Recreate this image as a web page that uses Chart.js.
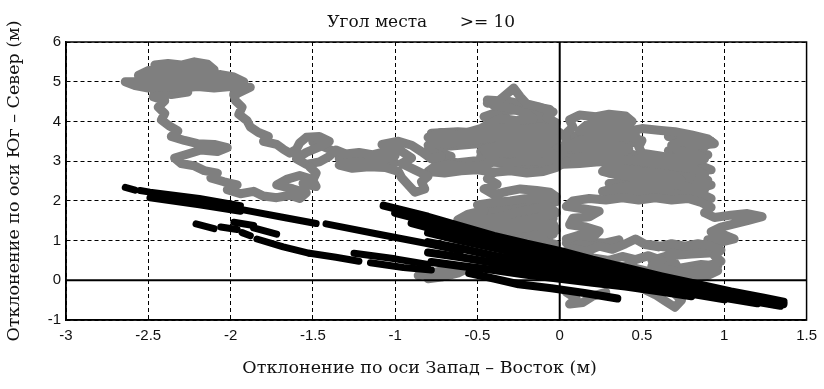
<!DOCTYPE html>
<html><head><meta charset="utf-8">
<script src="https://cdn.jsdelivr.net/npm/chart.js@4.4.0/dist/chart.umd.min.js"></script>
<style>html,body{margin:0;padding:0;background:#fff;}#wrap{width:824px;height:389px;}</style>
</head><body><div id="wrap"><canvas id="c" width="824" height="389"></canvas></div>
<script>
// ---- tick values / labels ----
const xTickValues = [-3, -2.5, -2, -1.5, -1, -0.5, 0, 0.5, 1, 1.5];
const xTickLabels = ['-3', '-2.5', '-2', '-1.5', '-1', '-0.5', '0', '0.5', '1', '1.5'];
const yTickValues = [-1, 0, 1, 2, 3, 4, 5, 6];
const yTickLabels = ['-1', '0', '1', '2', '3', '4', '5', '6'];

// ---- zero reference lines ----
const zeroLineX = [[0, -1], [0, 6]];
const zeroLineY = [[-3, 0], [1.5, 0]];

// ---- grey track (series 1) ----
const grayTrack1 = [[-2.46,5.42],[-2.38,5.46],[-2.30,5.42],[-2.22,5.50],[-2.14,5.44],[-2.10,5.30],[-2.20,5.32],[-2.30,5.28],[-2.40,5.32],[-2.50,5.28],[-2.56,5.16],[-2.46,5.18],[-2.36,5.14],[-2.26,5.18],[-2.16,5.14],[-2.06,5.18],[-1.98,5.12],[-1.92,5.00],[-2.02,5.04],[-2.12,5.00],[-2.22,5.04],[-2.32,5.00],[-2.42,5.04],[-2.52,5.00],[-2.64,5.00],[-2.58,4.90],[-2.50,4.84],[-2.40,4.88],[-2.30,4.84],[-2.20,4.88],[-2.10,4.84],[-2.00,4.88],[-1.88,4.86],[-1.94,4.74],[-1.98,4.66]];
const grayTrack2 = [[-2.26,4.74],[-2.36,4.68],[-2.46,4.74],[-2.47,4.62],[-2.40,4.52],[-2.44,4.36],[-2.40,4.20],[-2.42,4.04],[-2.37,3.88],[-2.32,3.76],[-2.36,3.62],[-2.28,3.52],[-2.20,3.44],[-2.10,3.42],[-2.02,3.34],[-2.08,3.24],[-2.18,3.28],[-2.26,3.18],[-2.34,3.08],[-2.30,2.94],[-2.22,2.88],[-2.16,2.76],[-2.08,2.70],[-2.12,2.58],[-2.04,2.48],[-1.96,2.40],[-2.02,2.28],[-1.94,2.18],[-1.86,2.24],[-1.80,2.12],[-1.72,2.08],[-1.64,2.14],[-1.58,2.06],[-1.54,2.20],[-1.62,2.30],[-1.72,2.40],[-1.66,2.54],[-1.58,2.64],[-1.52,2.56],[-1.56,2.44],[-1.48,2.36],[-1.50,2.52],[-1.48,2.70],[-1.52,2.86]];
const grayTrack3 = [[-1.98,4.70],[-1.97,4.52],[-1.93,4.36],[-1.95,4.18],[-1.90,4.02],[-1.88,3.86],[-1.83,3.72],[-1.77,3.62],[-1.80,3.50],[-1.72,3.42],[-1.68,3.30],[-1.64,3.20],[-1.60,3.30],[-1.58,3.46],[-1.54,3.60],[-1.46,3.62],[-1.40,3.50],[-1.46,3.36],[-1.54,3.22],[-1.60,3.06],[-1.54,2.92],[-1.46,2.98],[-1.40,3.12],[-1.36,3.28],[-1.30,3.18],[-1.22,3.22],[-1.14,3.16],[-1.06,3.24],[-1.00,3.14],[-1.08,3.02],[-1.16,2.96],[-1.26,2.98],[-1.34,2.90],[-1.26,2.82],[-1.16,2.86],[-1.06,2.84],[-0.98,2.74],[-0.96,2.58],[-0.92,2.40],[-0.88,2.22],[-0.82,2.30],[-0.84,2.48],[-0.80,2.62],[-0.88,2.78],[-0.96,2.94],[-0.90,3.08],[-0.98,3.30],[-1.08,3.42],[-0.98,3.50],[-0.90,3.40],[-0.84,3.24],[-0.78,3.06],[-0.72,3.12]];
const grayTrack4 = [[-0.72,3.12],[-0.80,3.28],[-0.76,3.44],[-0.80,3.60],[-0.72,3.72],[-0.62,3.64],[-0.52,3.72],[-0.42,3.80],[-0.32,3.84],[-0.22,3.80],[-0.12,3.86],[-0.04,3.80],[-0.02,3.96],[-0.08,4.10],[-0.04,4.24],[-0.12,4.36],[-0.20,4.44],[-0.24,4.62],[-0.28,4.84],[-0.33,4.66],[-0.37,4.52],[-0.44,4.54],[-0.40,4.40],[-0.30,4.34],[-0.22,4.22],[-0.16,4.08],[-0.26,4.02],[-0.36,4.08],[-0.42,3.96],[-0.48,3.82],[-0.58,3.70],[-0.68,3.62],[-0.78,3.52],[-0.70,3.42],[-0.60,3.50],[-0.50,3.54],[-0.40,3.60],[-0.30,3.62],[-0.20,3.60],[-0.10,3.64],[-0.02,3.56],[-0.08,3.42],[-0.18,3.40],[-0.28,3.44],[-0.38,3.38],[-0.46,3.30],[-0.44,3.16],[-0.36,3.20],[-0.26,3.22],[-0.16,3.18],[-0.06,3.24],[-0.02,3.08],[-0.10,2.98],[-0.20,3.02],[-0.30,2.96],[-0.40,2.98],[-0.48,2.88],[-0.58,2.86],[-0.68,2.92],[-0.76,2.86],[-0.80,2.74],[-0.70,2.70],[-0.60,2.76],[-0.50,2.78],[-0.40,2.72],[-0.30,2.76],[-0.20,2.70],[-0.10,2.74],[-0.02,2.84],[0.04,3.00]];
const grayTrack5 = [[-0.40,2.72],[-0.44,2.56],[-0.38,2.42],[-0.46,2.30],[-0.40,2.16],[-0.32,2.24],[-0.24,2.30],[-0.14,2.26],[-0.06,2.22],[-0.02,2.10],[-0.10,2.04],[-0.20,2.06],[-0.30,2.00],[-0.40,1.96],[-0.50,1.90],[-0.46,1.76],[-0.56,1.66],[-0.62,1.52],[-0.54,1.44],[-0.46,1.54],[-0.36,1.60],[-0.26,1.72],[-0.16,1.80],[-0.06,1.84],[-0.02,1.70],[-0.10,1.60],[-0.20,1.52],[-0.30,1.44],[-0.40,1.36],[-0.50,1.30],[-0.44,1.18],[-0.34,1.22],[-0.24,1.30],[-0.14,1.38],[-0.04,1.42],[-0.02,1.26],[-0.12,1.16],[-0.22,1.08],[-0.30,0.98],[-0.20,0.92],[-0.10,0.98],[-0.02,0.90],[-0.08,0.78],[0.00,0.66]];
const grayTrack6 = [[0.00,0.66],[0.08,0.80],[0.16,0.72],[0.24,0.86],[0.32,0.78],[0.40,0.92],[0.46,1.04],[0.52,0.90],[0.60,0.84],[0.68,0.92],[0.76,0.86],[0.84,0.92],[0.92,0.86],[0.98,0.76],[0.94,0.62],[0.98,0.48],[0.90,0.36],[0.84,0.26],[0.74,0.20],[0.64,0.28],[0.56,0.36],[0.62,0.50],[0.54,0.62],[0.46,0.52],[0.38,0.60],[0.30,0.50],[0.20,0.56],[0.12,0.46],[0.04,0.40],[0.10,0.30],[0.20,0.36],[0.30,0.30],[0.40,0.36],[0.48,0.28],[0.60,0.16],[0.70,0.10],[0.80,0.14],[0.90,0.12],[0.96,0.24]];
const grayTrack7 = [[0.04,1.04],[0.12,1.14],[0.20,1.08],[0.24,1.24],[0.16,1.34],[0.06,1.40],[0.08,1.56],[0.18,1.60],[0.24,1.74],[0.14,1.80],[0.04,1.86],[0.08,2.00],[0.18,2.06],[0.28,2.02],[0.38,2.08],[0.48,2.02],[0.58,2.08],[0.68,2.02],[0.78,2.06],[0.86,1.96],[0.92,1.84],[0.88,1.70],[0.94,1.58],[1.04,1.64],[1.14,1.68],[1.23,1.60],[1.14,1.50],[1.06,1.42],[0.98,1.34],[0.92,1.22],[1.00,1.14],[1.06,1.04],[0.98,0.96],[0.90,1.02]];
const grayTrack8 = [[0.02,3.00],[0.02,3.30],[0.04,3.50],[0.04,3.70],[0.08,3.86],[0.06,4.04],[0.12,4.16],[0.22,4.12],[0.30,4.18],[0.40,4.14],[0.44,4.00],[0.36,3.94],[0.26,3.98],[0.16,3.90],[0.12,3.76],[0.22,3.74],[0.32,3.80],[0.42,3.76],[0.50,3.82],[0.60,3.78],[0.70,3.74],[0.80,3.66],[0.90,3.56],[0.94,3.44],[0.84,3.40],[0.74,3.50],[0.68,3.40],[0.72,3.26],[0.82,3.20],[0.88,3.06],[0.80,2.98],[0.70,3.06],[0.60,3.14],[0.50,3.20],[0.48,3.36],[0.50,3.52],[0.42,3.62],[0.32,3.60],[0.22,3.56],[0.12,3.52],[0.04,3.36],[0.14,3.32],[0.24,3.38],[0.34,3.42],[0.42,3.30],[0.34,3.20],[0.24,3.16],[0.14,3.12],[0.04,3.06],[0.02,2.92],[0.12,2.94],[0.22,2.98],[0.32,3.00],[0.42,3.04],[0.52,2.98],[0.62,2.92],[0.72,2.86],[0.82,2.80],[0.88,2.66],[0.84,2.50],[0.92,2.40],[0.84,2.30],[0.74,2.38],[0.64,2.46],[0.54,2.54],[0.44,2.60],[0.34,2.66],[0.26,2.74],[0.30,2.86],[0.40,2.80],[0.50,2.74],[0.60,2.70],[0.70,2.64],[0.74,2.50],[0.64,2.30],[0.54,2.36],[0.44,2.40],[0.34,2.32],[0.26,2.24],[0.36,2.16],[0.46,2.22],[0.56,2.14],[0.66,2.18],[0.76,2.14],[0.86,2.18],[0.92,2.06]];
const grayTrack9 = [[-0.86,0.12],[-0.76,0.20],[-0.66,0.30],[-0.56,0.30],[-0.62,0.18],[-0.72,0.08],[-0.80,0.04]];
const grayTrack10 = [[0.04,-0.30],[0.10,-0.46],[0.06,-0.60],[0.14,-0.56],[0.20,-0.40],[0.28,-0.30]];
const grayTrack11 = [[0.50,-0.20],[0.58,-0.36],[0.64,-0.52],[0.70,-0.68],[0.74,-0.50],[0.70,-0.34],[0.80,-0.26]];
const grayTrack12 = [[-0.78,3.70],[-0.62,3.74],[-0.46,3.70],[-0.30,3.74],[-0.14,3.70],[0.00,3.72],[-0.02,3.50],[-0.18,3.52],[-0.34,3.50],[-0.50,3.44],[-0.66,3.38],[-0.80,3.40],[-0.74,3.22],[-0.66,3.12],[-0.76,3.02],[-0.62,2.96],[-0.48,3.02],[-0.48,3.12],[-0.32,3.10],[-0.16,3.10],[0.00,3.14],[-0.02,3.32],[-0.18,3.32],[-0.34,3.30],[-0.48,3.24],[-0.46,3.06],[-0.30,2.88],[-0.14,2.88],[0.00,2.94]];
const grayTrack13 = [[-0.44,4.46],[-0.30,4.50],[-0.18,4.40],[-0.06,4.30],[-0.10,4.18],[-0.22,4.30],[-0.36,4.26],[-0.46,4.12],[-0.34,3.94],[-0.20,4.00],[-0.06,3.98]];
const grayTrack14 = [[0.04,3.62],[0.20,3.66],[0.36,3.68],[0.46,3.66],[0.46,3.46],[0.30,3.50],[0.14,3.44],[0.04,3.24],[0.20,3.26],[0.36,3.26],[0.52,3.08],[0.68,3.00],[0.84,2.92],[0.92,2.78],[0.76,2.74],[0.60,2.82],[0.44,2.92],[0.30,2.86],[0.30,2.70],[0.46,2.66],[0.62,2.60],[0.80,2.60],[0.90,2.52],[0.76,2.44],[0.60,2.40],[0.44,2.48],[0.30,2.44],[0.40,2.30],[0.56,2.26],[0.72,2.26],[0.88,2.28]];
const grayTrack15 = [[0.66,3.62],[0.80,3.56],[0.92,3.50],[0.86,3.30],[0.74,3.36],[0.66,3.26],[0.80,3.10],[0.90,3.16]];
const grayTrack16 = [[-0.02,1.98],[-0.18,1.94],[-0.34,1.86],[-0.48,1.74],[-0.58,1.58],[-0.44,1.62],[-0.30,1.66],[-0.16,1.68],[-0.04,1.56],[-0.20,1.44],[-0.36,1.48],[-0.52,1.40],[-0.50,1.20],[-0.36,1.30],[-0.20,1.22],[-0.04,1.16],[-0.16,1.02],[-0.30,1.08],[-0.40,1.00]];
const grayTrack17 = [[-1.34,3.06],[-1.20,3.10],[-1.06,3.08],[-1.00,2.96],[-1.14,2.92],[-1.28,3.06],[-1.40,3.30],[-1.50,3.48]];
const grayTrack18 = [[0.54,0.90],[0.70,0.80],[0.86,0.78],[0.96,0.70],[0.80,0.66],[0.66,0.62],[0.56,0.50],[0.70,0.44],[0.72,0.30],[0.86,0.40],[0.96,0.36],[0.92,0.24]];
const grayTrack19 = [[0.04,0.94],[0.16,0.96],[0.28,0.94],[0.36,1.02]];

// ---- black streaks (series 2) ----
const blackStreak1 = [[-2.64,2.34],[-2.58,2.27]];
const blackStreak2 = [[-2.55,2.26],[-2.49,2.22],[-2.19,2.06],[-1.94,1.88]];
const blackStreak3 = [[-2.49,2.08],[-2.19,1.90],[-1.94,1.74]];
const blackStreak4 = [[-1.93,1.78],[-1.70,1.60],[-1.48,1.43]];
const blackStreak5 = [[-1.42,1.42],[-1.10,1.16],[-0.80,0.92],[-0.60,0.74]];
const blackStreak6 = [[-2.21,1.42],[-2.10,1.30]];
const blackStreak7 = [[-2.06,1.34],[-1.96,1.28]];
const blackStreak8 = [[-1.98,1.46],[-1.86,1.38]];
const blackStreak9 = [[-1.86,1.32],[-1.72,1.16]];
const blackStreak10 = [[-1.93,1.20],[-1.88,1.12]];
const blackStreak11 = [[-1.84,1.04],[-1.68,0.84],[-1.52,0.68]];
const blackStreak12 = [[-1.52,0.68],[-1.36,0.58],[-1.22,0.48]];
const blackStreak13 = [[-1.25,0.68],[-1.00,0.54],[-0.80,0.40]];
const blackStreak14 = [[-1.15,0.44],[-0.95,0.32],[-0.78,0.26]];
const blackWedge1 = [[-1.07,1.88],[-0.80,1.60],[-0.60,1.36],[-0.40,1.12],[-0.20,0.92],[0.00,0.74],[0.20,0.52],[0.40,0.32],[0.62,0.10],[0.84,-0.10],[1.04,-0.28],[1.24,-0.44],[1.36,-0.54]];
const blackWedge2 = [[-1.00,1.70],[-0.80,1.48],[-0.60,1.24],[-0.40,1.00],[-0.20,0.80],[0.00,0.62],[0.20,0.40],[0.40,0.20],[0.62,0.00],[0.84,-0.18],[1.04,-0.36],[1.24,-0.52],[1.36,-0.60]];
const blackWedge3 = [[-0.90,1.44],[-0.70,1.22],[-0.50,1.00],[-0.30,0.80],[-0.10,0.60],[0.10,0.40],[0.30,0.20],[0.50,0.02],[0.70,-0.14],[0.90,-0.30],[1.10,-0.44],[1.30,-0.60]];
const blackWedge4 = [[-0.80,1.20],[-0.60,1.00],[-0.40,0.82],[-0.20,0.64],[0.00,0.46],[0.20,0.28],[0.40,0.10],[0.60,-0.08],[0.80,-0.22],[1.00,-0.38],[1.20,-0.54],[1.34,-0.64]];
const blackWedge5 = [[-0.80,0.96],[-0.60,0.80],[-0.40,0.62],[-0.20,0.48],[0.00,0.34],[0.20,0.16],[0.40,0.00],[0.60,-0.14],[0.80,-0.28],[1.00,-0.44],[1.20,-0.58]];
const blackWedge6 = [[-0.80,0.70],[-0.60,0.58],[-0.40,0.44],[-0.20,0.30],[0.00,0.18],[0.20,0.04],[0.40,-0.10],[0.60,-0.22],[0.80,-0.34],[1.00,-0.48]];
const blackWedge7 = [[-0.78,0.46],[-0.60,0.36],[-0.40,0.26],[-0.20,0.14],[0.00,0.04],[0.20,-0.06],[0.40,-0.16],[0.60,-0.28],[0.80,-0.40]];
const blackBranch1 = [[-0.55,0.18],[-0.40,0.04],[-0.25,-0.10],[-0.05,-0.20],[0.15,-0.32],[0.35,-0.46]];

const grayTracks = [grayTrack1, grayTrack2, grayTrack3, grayTrack4, grayTrack5, grayTrack6, grayTrack7, grayTrack8, grayTrack9, grayTrack10, grayTrack11, grayTrack12, grayTrack13, grayTrack14, grayTrack15, grayTrack16, grayTrack17, grayTrack18, grayTrack19];
const blackStreaks = [blackStreak1, blackStreak2, blackStreak3, blackStreak4, blackStreak5, blackStreak6, blackStreak7, blackStreak8, blackStreak9, blackStreak10, blackStreak11, blackStreak12, blackStreak13, blackStreak14];
const blackWedges = [blackWedge1, blackWedge2, blackWedge3, blackWedge4, blackWedge5, blackWedge6, blackWedge7, blackBranch1];

const toXY = a => a.map(p => ({x: p[0], y: p[1]}));
const lineStyle = (color, width, order) => ({
  showLine: true, borderColor: color, backgroundColor: color, borderWidth: width,
  pointRadius: 0, pointHoverRadius: 0, borderCapStyle: 'round', borderJoinStyle: 'round',
  tension: 0, fill: false, order: order
});

const datasets = [];
blackStreaks.forEach(s => datasets.push(Object.assign({data: toXY(s)}, lineStyle('#000000', 7, 1))));
blackWedges.forEach(s => datasets.push(Object.assign({data: toXY(s)}, lineStyle('#000000', 8, 1))));
datasets.push(Object.assign({data: toXY(zeroLineX)}, lineStyle('#000000', 2, 2), {borderCapStyle: 'butt'}));
datasets.push(Object.assign({data: toXY(zeroLineY)}, lineStyle('#000000', 2, 2), {borderCapStyle: 'butt'}));
grayTracks.forEach(s => datasets.push(Object.assign({data: toXY(s)}, lineStyle('#7f7f7f', 9, 3))));

const framePlugin = {
  id: 'frame',
  afterDatasetsDraw(chart) {
    const a = chart.chartArea, ctx = chart.ctx;
    ctx.save();
    ctx.strokeStyle = '#000';
    ctx.lineWidth = 1.5;
    ctx.strokeRect(a.left, a.top, a.right - a.left, a.bottom - a.top);
    ctx.restore();
  }
};

const tickFont = {family: "'Liberation Sans', Arial, sans-serif", size: 15};
const labelFont = {family: "'DejaVu Serif', serif", size: 17.5};

new Chart(document.getElementById('c'), {
  type: 'scatter',
  data: {datasets},
  options: {
    responsive: false, animation: false, devicePixelRatio: 1,
    layout: {padding: {left: 0, right: 14, top: 0, bottom: 0}},
    plugins: {
      legend: {display: false}, tooltip: {enabled: false},
      title: {display: true, text: '      Угол места      >= 10', color: '#111',
        font: {family: "'DejaVu Serif', serif", size: 17, weight: 'normal'},
        padding: {top: 12, bottom: 9.6}}
    },
    scales: {
      x: {
        type: 'linear', min: -3, max: 1.5,
        afterBuildTicks: s => { s.ticks = xTickValues.map(v => ({value: v})); },
        afterFit: s => { s.height = 69; },
        ticks: {callback: (v, i) => xTickLabels[i], font: tickFont, color: '#111', padding: 7, maxRotation: 0, autoSkip: false},
        grid: {color: '#000', lineWidth: 1, drawTicks: false},
        border: {display: true, color: '#000', width: 1.5, dash: [4, 3]},
        title: {display: true, text: 'Отклонение по оси Запад – Восток (м)      ', color: '#111', font: labelFont, padding: {top: 0, bottom: 10}}
      },
      y: {
        type: 'linear', min: -1, max: 6,
        afterBuildTicks: s => { s.ticks = yTickValues.map(v => ({value: v})); },
        afterFit: s => { s.width = 66; },
        ticks: {callback: (v, i) => yTickLabels[i], font: tickFont, color: '#111', padding: 5, autoSkip: false},
        grid: {color: '#000', lineWidth: 1, drawTicks: false},
        border: {display: true, color: '#000', width: 1.5, dash: [4, 3]},
        title: {display: true, text: 'Отклонение по оси Юг – Север (м)', color: '#111', font: labelFont, padding: {top: 4, bottom: 0}}
      }
    }
  },
  plugins: [framePlugin]
});
</script></body></html>
